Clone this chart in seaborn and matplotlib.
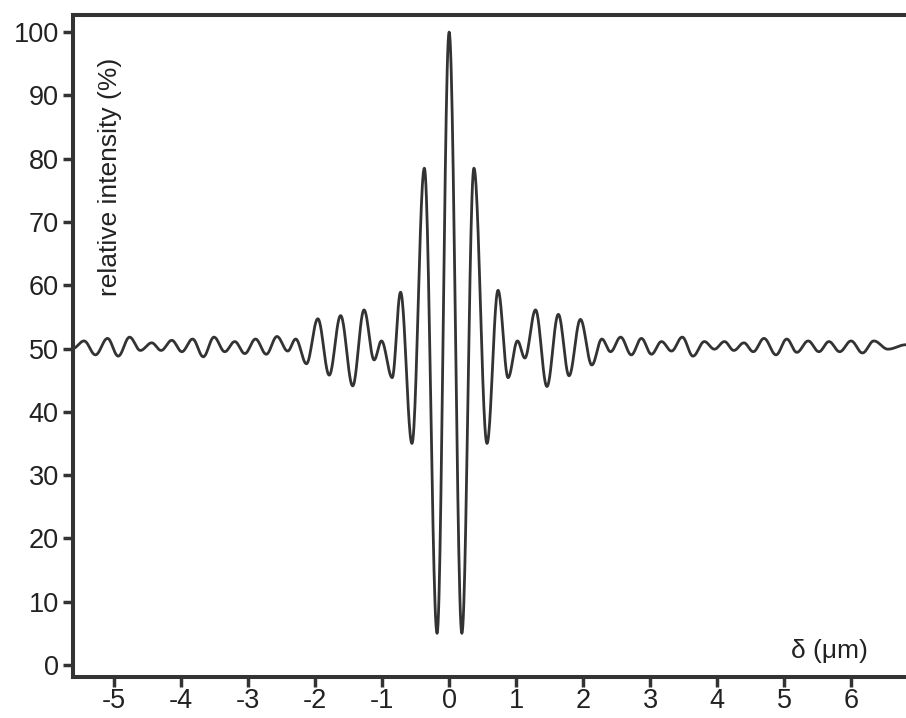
import numpy as np
import pandas as pd
import matplotlib
matplotlib.use("Agg")
import matplotlib.pyplot as plt
import seaborn as sns

# --- Datos: extremos sucesivos del interferograma ---
delta_ext = [-5.62, -5.45, -5.28, -5.10, -4.94, -4.77, -4.61, -4.44, -4.30, -4.14,
             -3.99, -3.83, -3.67, -3.51, -3.35, -3.20, -3.05, -2.89, -2.73, -2.57,
             -2.41, -2.29, -2.13, -1.96, -1.79, -1.62, -1.44, -1.27, -1.12, -1.01,
             -0.85, -0.725, -0.555, -0.37, -0.18, 0.0, 0.19, 0.37, 0.565, 0.73,
             0.88, 1.02, 1.13, 1.29, 1.46, 1.63, 1.79, 1.96, 2.13, 2.28,
             2.41, 2.56, 2.72, 2.87, 3.02, 3.17, 3.32, 3.48, 3.64, 3.81,
             3.96, 4.11, 4.25, 4.40, 4.54, 4.70, 4.88, 5.04, 5.19, 5.36,
             5.52, 5.67, 5.83, 6.00, 6.17, 6.34, 6.55, 6.82]
intens_ext = [50.0, 51.2, 49.0, 51.6, 48.8, 51.8, 49.7, 50.9, 49.7, 51.3,
              49.5, 51.5, 48.7, 51.8, 49.5, 51.1, 49.2, 51.5, 49.1, 51.9,
              49.6, 51.5, 47.6, 54.7, 45.8, 55.2, 44.1, 56.1, 48.2, 51.2,
              45.4, 58.9, 35.0, 78.5, 5.0, 100.0, 5.0, 78.5, 35.0, 59.2,
              45.4, 51.2, 48.5, 56.1, 44.0, 55.4, 45.7, 54.6, 47.4, 51.5,
              49.5, 51.8, 49.0, 51.6, 49.1, 51.1, 49.6, 51.8, 48.8, 51.1,
              49.9, 51.1, 49.7, 50.9, 49.5, 51.6, 49.0, 51.5, 49.4, 51.2,
              49.5, 51.1, 49.5, 51.2, 49.3, 51.2, 49.9, 50.6]

x_ticks = [-5, -4, -3, -2, -1, 0, 1, 2, 3, 4, 5, 6]
y_ticks = [0, 10, 20, 30, 40, 50, 60, 70, 80, 90, 100]

# --- Curva suave entre extremos (medio coseno entre cada par) ---
xs, ys = [], []
for i in range(len(delta_ext) - 1):
    t = np.linspace(0, 1, 25, endpoint=False)
    w = (1 - np.cos(np.pi * t)) / 2
    xs.extend(delta_ext[i] + (delta_ext[i + 1] - delta_ext[i]) * t)
    ys.extend(intens_ext[i] + (intens_ext[i + 1] - intens_ext[i]) * w)
xs.append(delta_ext[-1])
ys.append(intens_ext[-1])
curva = pd.DataFrame({"delta": xs, "intensidad": ys})

# --- Estilo ---
sns.set_style("white")
plt.rcParams["font.family"] = ["Liberation Sans", "DejaVu Sans"]
color = "#333333"

fig = plt.figure(figsize=(9.06, 7.18), dpi=100)
ax = fig.add_axes([0.0802, 0.0571, 0.9198, 0.922])

sns.lineplot(data=curva, x="delta", y="intensidad", sort=False, estimator=None,
             color=color, linewidth=2.0, ax=ax)

ax.set_xlim(-5.62, 6.82)
ax.set_ylim(-1.9, 102.7)
ax.set_xticks(x_ticks)
ax.set_yticks(y_ticks)
ax.set_xticklabels([str(v) for v in x_ticks])
ax.set_yticklabels([str(v) for v in y_ticks])
ax.set_xlabel("")
ax.set_ylabel("")

for lado in ["left", "top", "bottom"]:
    ax.spines[lado].set_linewidth(2.9)
    ax.spines[lado].set_color(color)
ax.spines["right"].set_visible(False)

ax.tick_params(axis="both", direction="out", length=7, width=2.5, color=color,
               labelsize=19.5, labelcolor="#222222")
ax.tick_params(axis="x", pad=1)
ax.tick_params(axis="y", pad=3)
ax.tick_params(left=True, bottom=True)

ax.text(-5.06, 96, "relative intensity (%)", rotation=90, ha="center", va="top",
        fontsize=19, color="#222222")
ax.text(6.25, 1.1, "δ (μm)", ha="right", va="baseline", fontsize=19, color="#222222")

fig.savefig("out.png", dpi=100)
